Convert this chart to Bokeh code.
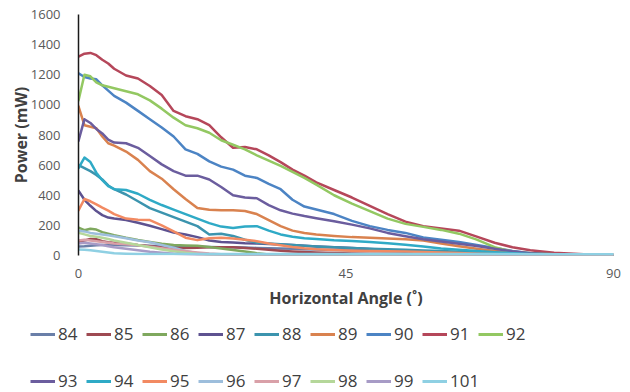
from bokeh.plotting import figure
from bokeh.models import Range1d, FixedTicker, Legend, LegendItem
from bokeh.layouts import column, row
from bokeh.embed import file_html
from bokeh.resources import INLINE

# ---------------- data ----------------
angles = [0, 1, 2, 3, 4, 5, 6, 8, 10, 12, 14, 16, 18, 20, 22, 24, 26, 28, 30, 32, 34, 36, 38, 40,
          43, 46, 49, 52, 55, 58, 61, 64, 67, 70, 73, 76, 80, 85, 90]

series_names = ["84", "85", "86", "87", "88", "89", "90", "91", "92",
                "93", "94", "95", "96", "97", "98", "99", "101"]

p84 = [60, 62, 65, 68, 70, 70, 70, 68, 66, 64, 62, 62, 60, 58, 56, 55, 54, 53, 50, 48, 46, 44, 42, 40,
       37, 34, 31, 28, 25, 22, 18, 14, 10, 7, 5, 3, 2, 1, 1]
p85 = [90, 100, 110, 108, 95, 88, 85, 80, 70, 62, 55, 50, 50, 52, 55, 55, 54, 50, 45, 38, 32, 27, 23, 20,
       17, 14, 12, 10, 8, 6, 5, 4, 3, 2, 2, 1, 1, 0, 0]
p86 = [185, 168, 178, 172, 155, 145, 135, 118, 103, 90, 78, 70, 67, 65, 56, 46, 36, 26, 15, 6, 2, 1, 0, 0,
       0, 0, 0, 0, 0, 0, 0, 0, 0, 0, 0, 0, 0, 0, 0]
p87 = [430, 370, 330, 295, 268, 252, 245, 235, 218, 198, 175, 153, 140, 122, 100, 90, 86, 82, 80, 77, 73, 69, 65, 60,
       55, 50, 43, 37, 30, 23, 17, 12, 8, 6, 4, 3, 2, 1, 1]
p88 = [600, 580, 560, 535, 505, 465, 440, 405, 360, 315, 285, 255, 225, 195, 140, 145, 130, 105, 85, 80, 75, 70, 65, 60,
       55, 50, 45, 42, 38, 34, 30, 25, 20, 14, 9, 6, 4, 2, 1]
p89 = [990, 865, 855, 845, 790, 745, 730, 690, 635, 560, 510, 440, 375, 315, 303, 300, 300, 295, 275, 235, 195, 165, 150, 140,
       130, 122, 118, 113, 108, 100, 80, 62, 45, 30, 20, 12, 7, 4, 2]
p90 = [1210, 1185, 1175, 1170, 1130, 1095, 1060, 1015, 960, 905, 850, 790, 705, 675, 625, 590, 570, 530, 515, 475, 440, 370, 325, 305,
       275, 230, 195, 170, 150, 120, 105, 90, 70, 50, 30, 15, 8, 5, 3]
p91 = [1320, 1340, 1345, 1330, 1300, 1275, 1240, 1195, 1175, 1125, 1065, 960, 925, 905, 865, 785, 715, 720, 705, 665, 620, 570, 530, 485,
       435, 385, 330, 275, 225, 195, 180, 165, 125, 85, 55, 35, 18, 8, 5]
p92 = [1030, 1200, 1190, 1150, 1130, 1120, 1110, 1090, 1070, 1030, 975, 915, 865, 845, 815, 765, 735, 705, 665, 630, 595, 555, 515, 470,
       400, 345, 295, 245, 210, 190, 170, 145, 105, 55, 25, 15, 8, 5, 3]
p93 = [760, 905, 880, 840, 810, 770, 750, 745, 715, 660, 605, 560, 530, 530, 505, 455, 400, 385, 380, 335, 300, 278, 262, 248,
       228, 205, 180, 150, 128, 108, 93, 78, 63, 45, 28, 15, 8, 4, 2]
p94 = [580, 650, 620, 550, 500, 460, 440, 435, 410, 370, 335, 305, 275, 245, 215, 192, 182, 192, 195, 165, 140, 125, 115, 110,
       102, 97, 90, 82, 72, 60, 47, 38, 30, 22, 15, 10, 6, 4, 2]
p95 = [300, 375, 360, 340, 318, 298, 275, 245, 238, 235, 200, 160, 118, 102, 115, 118, 113, 105, 95, 80, 68, 57, 48, 42,
       36, 32, 30, 28, 26, 24, 20, 16, 12, 8, 6, 4, 3, 2, 1]
p96 = [165, 160, 150, 145, 140, 135, 128, 115, 100, 88, 70, 52, 30, 15, 8, 5, 4, 3, 3, 2, 2, 2, 2, 2,
       2, 2, 2, 2, 2, 2, 2, 2, 2, 2, 2, 2, 2, 2, 2]
p97 = [100, 105, 100, 95, 90, 85, 80, 75, 68, 58, 48, 38, 28, 20, 13, 8, 5, 3, 2, 2, 1, 1, 1, 1,
       1, 1, 1, 1, 1, 1, 1, 1, 1, 1, 1, 1, 1, 1, 1]
p98 = [150, 140, 130, 125, 118, 110, 100, 85, 70, 55, 40, 28, 18, 10, 5, 3, 1, 1, 1, 1, 1, 1, 1, 1,
       1, 1, 1, 1, 1, 1, 1, 1, 1, 1, 1, 1, 1, 1, 1]
p99 = [80, 85, 80, 75, 70, 62, 55, 45, 35, 25, 18, 12, 8, 5, 3, 1, 1, 1, 1, 1, 1, 1, 1, 1,
       1, 1, 1, 1, 1, 1, 1, 1, 1, 1, 1, 1, 1, 1, 1]
p101 = [40, 38, 35, 30, 25, 20, 15, 12, 10, 10, 10, 10, 10, 10, 10, 10, 10, 10, 10, 10, 10, 10, 10, 10,
        10, 10, 10, 10, 10, 10, 10, 10, 10, 10, 10, 9, 9, 8, 8]

powers = [p84, p85, p86, p87, p88, p89, p90, p91, p92, p93, p94, p95, p96, p97, p98, p99, p101]

colors = ["#6A7FA8", "#9E4A52", "#7FA85E", "#5E5290", "#3C94AE", "#D9824F",
          "#4C84C4", "#B5475A", "#93C862", "#6B5D9E", "#2FAAC6", "#F28A62",
          "#9DBEDC", "#D9A0A8", "#B5D79A", "#A79BC6", "#8FD0E3"]

y_ticks = [0, 200, 400, 600, 800, 1000, 1200, 1400, 1600]
x_ticks = [0, 45, 90]

FONT = "Open Sans"
MAIN_H = 320
LEG_H = 392 - MAIN_H

# ---------------- main chart ----------------
p = figure(width=630, height=MAIN_H, output_backend="svg", toolbar_location=None,
           x_range=Range1d(0, 90), y_range=Range1d(0, 1600),
           min_border_left=78, min_border_right=17, min_border_top=14,
           min_border_bottom=MAIN_H - 255)
p.outline_line_color = None
p.xgrid.visible = False
p.ygrid.visible = False
p.background_fill_color = "white"
p.border_fill_color = "white"

for ys, c in zip(powers, colors):
    p.line(angles, ys, line_color=c, line_width=2.5, line_join="round", line_cap="round")

p.xaxis.ticker = FixedTicker(ticks=x_ticks)
p.yaxis.ticker = FixedTicker(ticks=y_ticks)
for ax in (p.xaxis[0], p.yaxis[0]):
    ax.major_tick_line_color = None
    ax.minor_tick_line_color = None
    ax.major_label_text_font = FONT
    ax.major_label_text_font_size = "13px"
    ax.major_label_text_color = "#595959"
    ax.axis_label_text_font = FONT
    ax.axis_label_text_font_style = "bold"
    ax.axis_label_text_font_size = "16px"
    ax.axis_label_text_color = "#404040"
p.xaxis.axis_line_color = None
p.yaxis.axis_line_color = "#1a1a1a"
p.yaxis.axis_line_width = 1.5
p.xaxis.axis_label = "Horizontal Angle (˚)"
p.yaxis.axis_label = "Power (mW)"
p.xaxis.major_label_standoff = 7
p.xaxis.axis_label_standoff = 6
p.yaxis.major_label_standoff = 12
p.yaxis.axis_label_standoff = -4

# ---------------- legend strip ----------------
lf = figure(width=630, height=LEG_H, output_backend="svg", toolbar_location=None,
            x_range=Range1d(0, 1), y_range=Range1d(0, 1),
            x_axis_location=None, y_axis_location=None,
            min_border_left=0, min_border_right=0, min_border_top=0,
            min_border_bottom=0)
lf.outline_line_color = None
lf.xgrid.visible = False
lf.ygrid.visible = False
lf.background_fill_color = "white"
lf.border_fill_color = "white"

# legend swatches (kept off-frame; only their legend glyphs show)
swatches = [lf.line(x=[5, 6], y=[5, 6], line_color=c, line_width=3) for c in colors]

ITEM_H = 18


def make_legend(idx, loc):
    items = [LegendItem(label=series_names[i], renderers=[swatches[i]]) for i in idx]
    lg = Legend(items=items, orientation="horizontal", location=loc)
    lg.glyph_width = 25
    lg.glyph_height = ITEM_H
    lg.label_height = ITEM_H
    lg.label_width = 20
    lg.label_standoff = 3
    lg.spacing = 8
    lg.padding = 0
    lg.margin = 0
    lg.border_line_color = None
    lg.background_fill_alpha = 0
    lg.label_text_font = FONT
    lg.label_text_font_size = "17px"
    lg.label_text_color = "#404040"
    return lg


row1_center = 336 - MAIN_H
row2_center = 383 - MAIN_H
leg1 = make_legend(range(0, 9), (30, LEG_H - (row1_center + ITEM_H // 2)))
leg2 = make_legend(range(9, 17), (30, LEG_H - (row2_center + ITEM_H // 2)))
lf.add_layout(leg1, "center")
lf.add_layout(leg2, "center")

layout = column(p, row(lf), spacing=0)
open("out.html", "w").write(file_html(layout, INLINE))
